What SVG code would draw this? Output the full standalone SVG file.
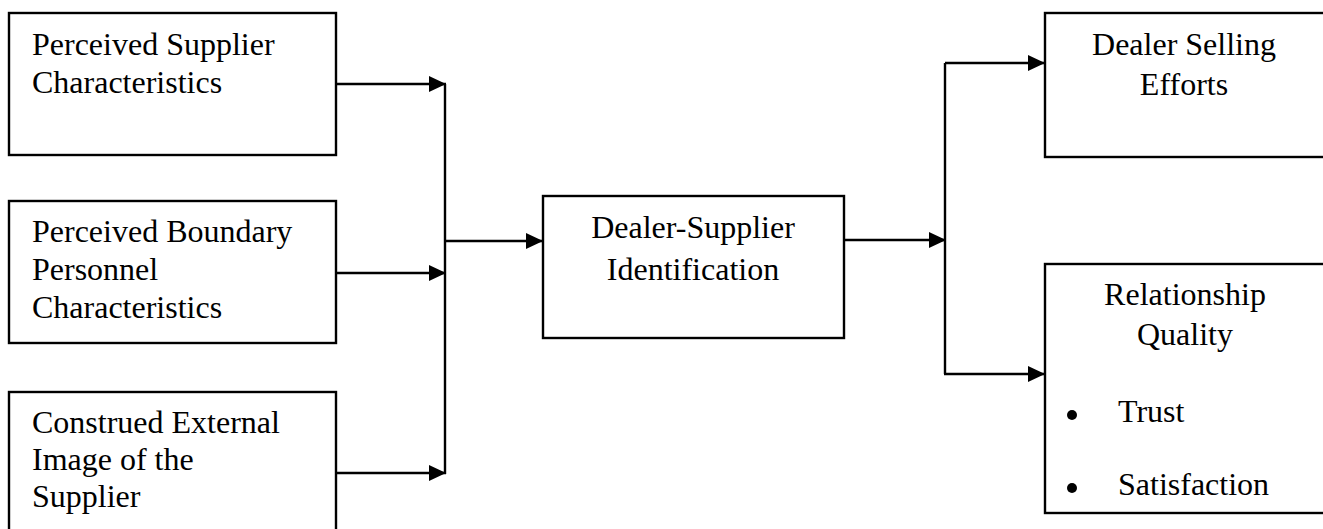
<svg xmlns="http://www.w3.org/2000/svg" width="1323" height="529" viewBox="0 0 1323 529">
  <style>
    .box { fill: #ffffff; stroke: #000000; stroke-width: 2.4; }
    .lbl { font-family: "Liberation Serif", "Times New Roman", serif; font-size: 32px; fill: #000000; }
    .mid { text-anchor: middle; }
    .wire { fill: none; stroke: #000000; stroke-width: 2.4; }
    .arrow { marker-end: url(#head); }
  </style>
  <defs>
    <marker id="head" viewBox="0 0 17 16" refX="17" refY="8" markerWidth="17" markerHeight="16" markerUnits="userSpaceOnUse" orient="auto">
      <path d="M0,0 L17,8 L0,16 z" fill="#000000"/>
    </marker>
  </defs>
  <rect width="1323" height="529" fill="#ffffff"/>

  <!-- antecedents -->
  <g id="supplier-characteristics">
    <rect class="box" x="9" y="13" width="327" height="142"/>
    <text class="lbl" x="32" y="55">Perceived Supplier</text>
    <text class="lbl" x="32" y="93">Characteristics</text>
  </g>
  <g id="boundary-personnel">
    <rect class="box" x="9" y="201" width="327" height="142"/>
    <text class="lbl" x="32" y="242">Perceived Boundary</text>
    <text class="lbl" x="32" y="280">Personnel</text>
    <text class="lbl" x="32" y="318">Characteristics</text>
  </g>
  <g id="external-image">
    <rect class="box" x="9" y="392" width="327" height="150"/>
    <text class="lbl" x="32" y="433">Construed External</text>
    <text class="lbl" x="32" y="470">Image of the</text>
    <text class="lbl" x="32" y="507">Supplier</text>
  </g>

  <!-- mediator -->
  <g id="identification">
    <rect class="box" x="543" y="196" width="301" height="142"/>
    <text class="lbl mid" x="693" y="238">Dealer-Supplier</text>
    <text class="lbl mid" x="693" y="280">Identification</text>
  </g>

  <!-- outcomes -->
  <g id="selling-efforts">
    <rect class="box" x="1045" y="13" width="290" height="144"/>
    <text class="lbl mid" x="1184" y="55">Dealer Selling</text>
    <text class="lbl mid" x="1184" y="95">Efforts</text>
  </g>
  <g id="relationship-quality">
    <rect class="box" x="1045" y="264" width="290" height="249"/>
    <text class="lbl mid" x="1185" y="305">Relationship</text>
    <text class="lbl mid" x="1185" y="345">Quality</text>
    <circle cx="1072" cy="415" r="5" fill="#000000"/>
    <text class="lbl" x="1118" y="422">Trust</text>
    <circle cx="1072" cy="488" r="5" fill="#000000"/>
    <text class="lbl" x="1118" y="495">Satisfaction</text>
  </g>

  <!-- connectors -->
  <g id="connectors">
    <line class="wire" x1="445" y1="84" x2="445" y2="474"/>
    <line class="wire arrow" x1="336" y1="84" x2="446" y2="84"/>
    <line class="wire arrow" x1="336" y1="273" x2="446" y2="273"/>
    <line class="wire arrow" x1="336" y1="473" x2="446" y2="473"/>
    <line class="wire arrow" x1="445" y1="241" x2="543" y2="241"/>
    <line class="wire arrow" x1="844" y1="240" x2="946" y2="240"/>
    <line class="wire" x1="945" y1="63" x2="945" y2="374"/>
    <line class="wire arrow" x1="945" y1="63" x2="1045" y2="63"/>
    <line class="wire arrow" x1="944" y1="374" x2="1045" y2="374"/>
  </g>
</svg>
